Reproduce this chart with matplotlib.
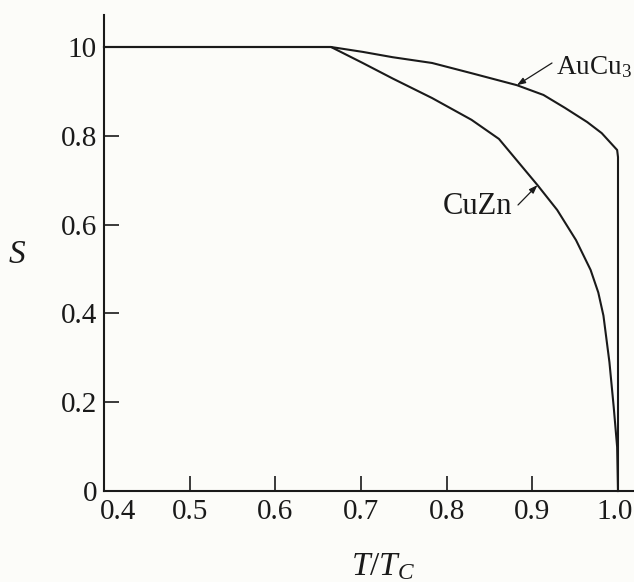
import matplotlib
matplotlib.use("Agg")
import matplotlib.pyplot as plt
from matplotlib.transforms import ScaledTranslation

# ---- data ----
cuzn_x = [0.40, 0.665, 0.702, 0.737, 0.783, 0.829, 0.861, 0.906, 0.929, 0.951,
          0.968, 0.977, 0.983, 0.990, 0.995, 0.999, 1.000]
cuzn_y = [1.00, 1.000, 0.964, 0.929, 0.885, 0.836, 0.793, 0.689, 0.633, 0.565,
          0.498, 0.447, 0.395, 0.290, 0.189, 0.099, 0.000]

aucu_x = [0.40, 0.665, 0.702, 0.737, 0.783, 0.829, 0.882, 0.913, 0.938, 0.964,
          0.981, 0.999, 1.000, 1.000]
aucu_y = [1.00, 1.000, 0.989, 0.977, 0.964, 0.941, 0.914, 0.892, 0.863, 0.831,
          0.806, 0.768, 0.752, 0.000]

x_ticks = [0.4, 0.5, 0.6, 0.7, 0.8, 0.9, 1.0]
x_labels = ["0.4", "0.5", "0.6", "0.7", "0.8", "0.9", "1.0"]
y_ticks = [0.0, 0.2, 0.4, 0.6, 0.8, 1.0]
y_labels = ["0", "0.2", "0.4", "0.6", "0.8", "10"]

plt.rcParams["font.family"] = ["Liberation Serif", "DejaVu Serif"]
plt.rcParams["mathtext.fontset"] = "custom"
plt.rcParams["mathtext.rm"] = "Liberation Serif"
plt.rcParams["mathtext.it"] = "Liberation Serif:italic"

W, H = 634, 582
fig = plt.figure(figsize=(W / 100, H / 100), dpi=100, facecolor="#fcfcf9")

# axes: x 0.4 -> px 104, 1.0 -> px 618 ; y 0 -> px 491, 1.0 -> px 47
px_per_unit_x = (618 - 104) / 0.6
x_right = 0.4 + (634 - 104) / px_per_unit_x
px_per_unit_y = (491 - 47) / 1.0
y_top = (491 - 15) / px_per_unit_y
ax = fig.add_axes([104 / W, 1 - 491 / H, (634 - 104) / W, (491 - 15) / H])
ax.set_facecolor("none")
ax.set_xlim(0.4, x_right)
ax.set_ylim(0.0, y_top)

lc = "#1a1a1a"
ax.plot(cuzn_x, cuzn_y, color=lc, lw=1.5, solid_joinstyle="round", clip_on=False)
ax.plot(aucu_x, aucu_y, color=lc, lw=1.5, solid_joinstyle="round", clip_on=False)

for s in ("top", "right"):
    ax.spines[s].set_visible(False)
for s in ("left", "bottom"):
    ax.spines[s].set_linewidth(1.5)
    ax.spines[s].set_color(lc)

ax.set_xticks(x_ticks)
ax.set_xticklabels(x_labels)
ax.set_yticks(y_ticks)
ax.set_yticklabels(y_labels)
ax.tick_params(direction="in", length=10.5, width=1.2, color=lc,
               labelsize=21, labelcolor=lc)
ax.tick_params(axis="x", pad=6)
ax.tick_params(axis="y", pad=5)

# shift the 0.4 label right and the 1.0 label slightly left, as in the reference
labs = ax.get_xticklabels()
labs[0].set_transform(labs[0].get_transform() + ScaledTranslation(0.14, 0, fig.dpi_scale_trans))
labs[-1].set_transform(labs[-1].get_transform() + ScaledTranslation(-0.03, 0, fig.dpi_scale_trans))

def px2data(px, py):
    return 0.4 + (px - 104) / px_per_unit_x, (491 - py) / px_per_unit_y

arrow = dict(arrowstyle="-|>,head_length=0.5,head_width=0.18", color=lc, lw=0.9,
             shrinkA=0, shrinkB=0)

ax.text(*px2data(556, 67), "AuCu$_3$", fontsize=19.5, color=lc, ha="left", va="center")
ax.annotate("", xy=(0.882, 0.914), xytext=px2data(552, 63), arrowprops=arrow)

ax.text(*px2data(477, 206), "CuZn", fontsize=22, color=lc, ha="center", va="center")
ax.annotate("", xy=(0.906, 0.689), xytext=px2data(518, 205), arrowprops=arrow)

fig.text(17 / W, 1 - 255 / H, "$S$", fontsize=24, color=lc, ha="center", va="center")
fig.text(383 / W, 1 - 575 / H, "$T/T_C$", fontsize=24, color=lc, ha="center", va="baseline")

fig.savefig("out.png", dpi=100, facecolor=fig.get_facecolor())
